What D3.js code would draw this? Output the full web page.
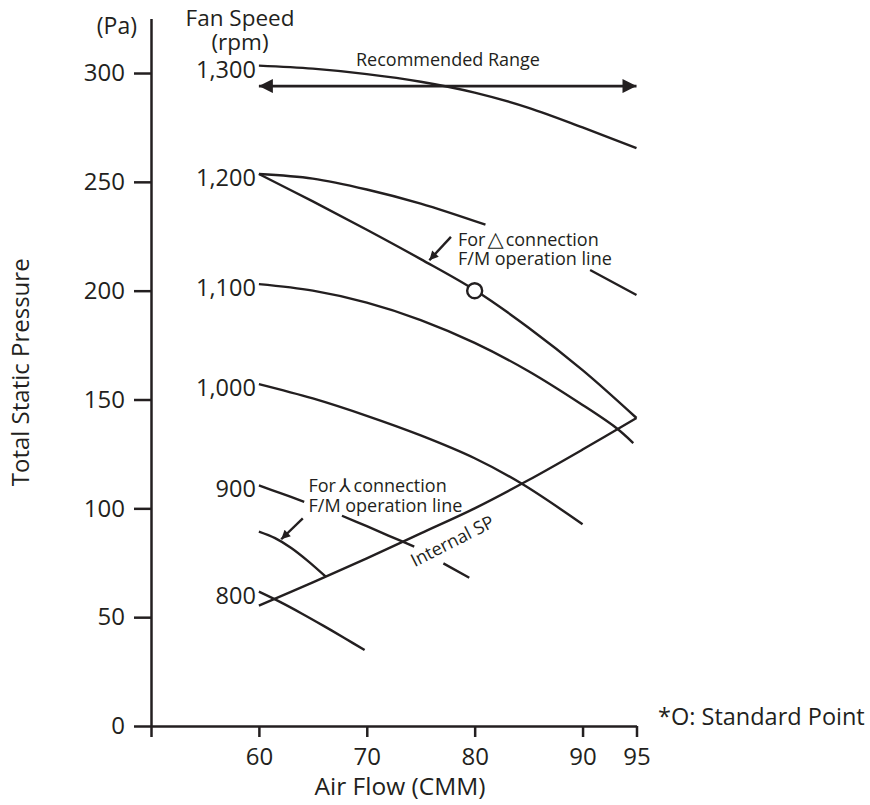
<!DOCTYPE html>
<html>
<head>
<meta charset="utf-8">
<script src="https://cdn.jsdelivr.net/npm/d3@7"></script>
<style>
  html, body { margin: 0; padding: 0; background: #fff; }
  svg { display: block; font-family: 'Open Sans', sans-serif; }
  text { fill: #231f20; }
</style>
</head>
<body>
<svg id="chart" width="870" height="805"></svg>
<script>
// ---------------- data ----------------
const xTicks = [50, 60, 70, 80, 90, 95];
const xTickLabels = ["", "60", "70", "80", "90", "95"];
const yTicks = [0, 50, 100, 150, 200, 250, 300];

const speedLabels = ["1,300", "1,200", "1,100", "1,000", "900", "800"];

const curve1300 = [[60,303.4],[65,302],[70,299.5],[75,296],[80,291],[85,284],[90,275],[95,265.5]];
const curve1200 = [[60,253.6],[65,251.5],[70,246.5],[75,240],[81,230.3],null,[90.7,209.5],[95,198]];
const curve1100 = [[60,203],[65,200],[70,194.5],[75,186.5],[80,176],[85,163],[90,147.5],[93.1,137],[94.7,130]];
const curve1000 = [[60,157.1],[65,150.5],[70,142.5],[75,133.5],[80,123],[84.3,111.5],[90,92.7]];
const curve900  = [[60,110.5],[62,107],[64.2,103],null,[67.7,96.6],[70,91.8],[72,87.5],[74.4,82.4],null,[77.1,74.7],[79.5,68.1]];
const curve800  = [[60,61.7],[62,56.9],[64,51.6],[66,46],[68,40.2],[69.8,34.9]];
const fanCurves = [curve1300, curve1200, curve1100, curve1000, curve900, curve800];

const deltaLine  = [[60,253.6],[65,241],[70,228],[75,214.5],[80,200.3],[85,183],[90,163.5],[95,141.5]];
const wyeLine    = [[60,89.3],[61.5,86.3],[63,81.8],[64.5,76],[66.2,68.6]];
const internalSP = [[60,55.3],[65,66],[70,77],[75,88.5],[80,100],[85,113],[90,127],[95,141.5]];

const standardPoint = [80, 200];
const recommendedRange = [60, 95, 294];
// annotation arrows: [tailX, tailY, tipX, tipY] in data units
const deltaArrow = [77.8, 224.7, 75.8, 214.0];
const wyeArrow   = [64.07, 95.4, 62.07, 85.8];

// ---------------- chart ----------------
const ink = "#231f20";
const svg = d3.select("#chart");
const x = d3.scaleLinear().domain([50, 95]).range([151, 636.5]);
const y = d3.scaleLinear().domain([0, 325]).range([726, 18.6]);

const defs = svg.append("defs");
defs.append("marker").attr("id", "ah").attr("viewBox", "0 0 10 10")
  .attr("refX", 10).attr("refY", 5).attr("markerWidth", 11).attr("markerHeight", 9)
  .attr("markerUnits", "userSpaceOnUse").attr("orient", "auto")
  .append("path").attr("d", "M0,0 L10,5 L0,10 Z").attr("fill", ink);
defs.append("marker").attr("id", "bigah").attr("viewBox", "0 0 10 10")
  .attr("refX", 10).attr("refY", 5).attr("markerWidth", 28).attr("markerHeight", 14)
  .attr("markerUnits", "userSpaceOnUse").attr("orient", "auto-start-reverse")
  .append("path").attr("d", "M0,0 L10,5 L0,10 Z").attr("fill", ink);

// axes
const yAxis = d3.axisLeft(y).tickValues(yTicks).tickSize(17).tickSizeOuter(0).tickPadding(9);
const gy = svg.append("g").attr("transform", `translate(${x(50)},0)`).call(yAxis);
const xAxis = d3.axisBottom(x).tickValues(xTicks).tickFormat((d, i) => xTickLabels[i])
  .tickSize(11).tickSizeOuter(0).tickPadding(11);
const gx = svg.append("g").attr("transform", `translate(0,${y(0)})`).call(xAxis);
[gx, gy].forEach(g => {
  g.selectAll("path, line").attr("stroke", ink).attr("stroke-width", 2.5);
  g.selectAll("text").attr("font-size", 24).attr("font-family", "'Open Sans', sans-serif").attr("fill", ink);
});

// axis titles
svg.append("text").attr("x", 400).attr("y", 795).attr("text-anchor", "middle")
  .attr("font-size", 24.5).text("Air Flow (CMM)");
svg.append("text").attr("transform", `translate(29,${(y(0)+y(325))/2}) rotate(-90)`)
  .attr("text-anchor", "middle").attr("font-size", 24).text("Total Static Pressure");
svg.append("text").attr("x", 137).attr("y", 34).attr("text-anchor", "end")
  .attr("font-size", 23).text("(Pa)");
svg.append("text").attr("x", 240).attr("y", 26).attr("text-anchor", "middle")
  .attr("font-size", 22.5).text("Fan Speed");
svg.append("text").attr("x", 240).attr("y", 50).attr("text-anchor", "middle")
  .attr("font-size", 22.5).text("(rpm)");
svg.append("text").attr("x", 658).attr("y", 725).attr("font-size", 23.5)
  .text("*O: Standard Point");

// curves
const lineCR = d3.line().defined(d => d).x(d => x(d[0])).y(d => y(d[1])).curve(d3.curveCatmullRom);
const g = svg.append("g").attr("fill", "none").attr("stroke", ink).attr("stroke-width", 2.4)
  .attr("stroke-linejoin", "round");
fanCurves.forEach(c => g.append("path").attr("d", lineCR(c)));
g.append("path").attr("d", lineCR(deltaLine));
g.append("path").attr("d", lineCR(wyeLine));
g.append("path").attr("d", lineCR(internalSP));

// speed labels
fanCurves.forEach((c, i) => {
  svg.append("text").attr("x", x(c[0][0]) - 3).attr("y", y(c[0][1]) + 12)
    .attr("text-anchor", "end").attr("font-size", 23.5).text(speedLabels[i]);
});

// recommended range
svg.append("line")
  .attr("x1", x(recommendedRange[0])).attr("x2", x(recommendedRange[1]))
  .attr("y1", y(recommendedRange[2])).attr("y2", y(recommendedRange[2]))
  .attr("stroke", ink).attr("stroke-width", 2.6)
  .attr("marker-start", "url(#bigah)").attr("marker-end", "url(#bigah)");
svg.append("text").attr("x", 448).attr("y", 66).attr("text-anchor", "middle")
  .attr("font-size", 18).text("Recommended Range");

// standard point
svg.append("circle").attr("cx", x(standardPoint[0])).attr("cy", y(standardPoint[1])).attr("r", 7.5)
  .attr("fill", "#fff").attr("stroke", ink).attr("stroke-width", 2.4);

// annotation arrows
[deltaArrow, wyeArrow].forEach(a => {
  svg.append("line").attr("x1", x(a[0])).attr("y1", y(a[1])).attr("x2", x(a[2])).attr("y2", y(a[3]))
    .attr("stroke", ink).attr("stroke-width", 2.4).attr("marker-end", "url(#ah)");
});

// delta annotation
const t1 = svg.append("text").attr("x", 458).attr("y", 245.5).attr("font-size", 18);
t1.append("tspan").text("For");
t1.append("tspan").attr("dx", 2).attr("font-family", "'DejaVu Sans'").attr("font-size", 21).text("△");
t1.append("tspan").attr("dx", 2).text("connection");
svg.append("text").attr("x", 458).attr("y", 264.5).attr("font-size", 18).text("F/M operation line");

// wye annotation
const t2 = svg.append("text").attr("x", 308.5).attr("y", 491.7).attr("font-size", 18);
t2.append("tspan").text("For");
t2.append("tspan").attr("dx", 3).attr("font-family", "'DejaVu Sans'").attr("font-size", 19).text("⅄");
t2.append("tspan").attr("dx", 3).text("connection");
svg.append("text").attr("x", 308.5).attr("y", 511.7).attr("font-size", 18).text("F/M operation line");

// internal SP label
svg.append("text").attr("transform", `translate(${x(78.2)},${y(82.4)}) rotate(-27)`)
  .attr("text-anchor", "middle").attr("font-size", 18).text("Internal SP");
</script>
</body>
</html>
